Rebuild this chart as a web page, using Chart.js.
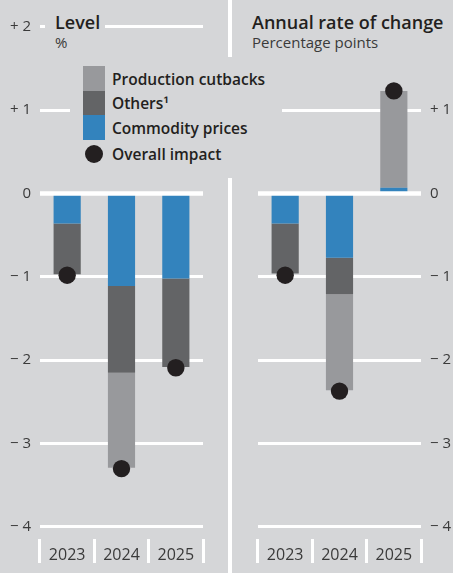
<!DOCTYPE html>
<html><head><meta charset="utf-8">
<script src="https://cdn.jsdelivr.net/npm/chart.js@4/dist/chart.umd.min.js"></script>
<style>
html,body{margin:0;padding:0;background:#d5d6d8;width:453px;height:573px;overflow:hidden;font-family:"Open Sans",sans-serif;}
#wrap{position:relative;width:453px;height:573px;}
canvas{position:absolute;top:0;}
#c1{left:0;}
#c2{left:232px;}
.sep{position:absolute;left:228px;top:0;width:4px;height:573px;background:#fff;}
.box{position:absolute;background:#d5d6d8;color:#231f20;}
.t{position:absolute;white-space:nowrap;}
.title{font-weight:600;font-size:18px;line-height:20px;}
.sub{font-weight:400;font-size:15px;line-height:18px;color:#3a3a3a;}
.lg{font-weight:600;font-size:15.5px;line-height:20px;color:#231f20;}
.sw{position:absolute;left:13px;width:22px;}
</style>
</head><body>
<div id="wrap">
  <canvas id="c1" width="228" height="573"></canvas>
  <div class="sep"></div>
  <canvas id="c2" width="221" height="573"></canvas>

  <div class="box" style="left:45px;top:8px;width:60px;height:44px;">
    <div class="t title" style="left:10px;top:3.6px;">Level</div>
    <div class="t sub" style="left:10px;top:25px;">%</div>
  </div>
  <div class="box" style="left:232px;top:0;width:221px;height:57px;">
    <div class="t title" style="left:20px;top:11.6px;">Annual rate of change</div>
    <div class="t sub" style="left:20px;top:33px;">Percentage points</div>
  </div>
  <div class="box" style="left:70px;top:57px;width:212px;height:121px;">
    <div class="sw" style="top:8.7px;height:25.3px;background:#98999c;"></div>
    <div class="sw" style="top:34px;height:24px;background:#636466;"></div>
    <div class="sw" style="top:58px;height:25px;background:#3383bd;"></div>
    <div style="position:absolute;left:15px;top:88px;width:18px;height:18px;border-radius:50%;background:#231f20;"></div>
    <div class="t lg" style="left:42px;top:12px;">Production cutbacks</div>
    <div class="t lg" style="left:42px;top:36px;">Others¹</div>
    <div class="t lg" style="left:42px;top:61px;">Commodity prices</div>
    <div class="t lg" style="left:42px;top:87px;">Overall impact</div>
  </div>
</div>
<script>
// ---- data ----
const categories = ['2023', '2024', '2025'];
const levelCommodity  = [-0.36, -1.11, -1.02];
const levelOthers     = [-0.61, -1.04, -1.06];
const levelProduction = [0, -1.14, 0];
const levelOverall    = [-0.98, -3.30, -2.09];
const changeCommodity  = [-0.36, -0.77, 0.07];
const changeOthers     = [-0.60, -0.44, 0];
const changeProduction = [0, -1.15, 1.16];
const changeOverall    = [-0.98, -2.37, 1.23];
const yTickValues = [2, 1, 0, -1, -2, -3, -4];
const seriesNames = ['Commodity prices', 'Others¹', 'Production cutbacks', 'Overall impact'];

const C_BLUE = '#3383bd', C_DARK = '#636466', C_LIGHT = '#98999c', C_DOT = '#231f20';
const TXT = '#3a3a3a';

function tickLabel(v) {
  if (v > 0) return '+ ' + v;
  if (v < 0) return '\u2212 ' + (-v);
  return '0';
}

const zeroLine = {
  id: 'zeroLine',
  afterDatasetsDraw(chart) {
    const y = chart.scales.y.getPixelForValue(0);
    const a = chart.chartArea;
    const ctx = chart.ctx;
    ctx.save();
    ctx.strokeStyle = '#ffffff';
    ctx.lineWidth = 4.5;
    ctx.beginPath();
    ctx.moveTo(a.left, y);
    ctx.lineTo(a.right, y);
    ctx.stroke();
    ctx.restore();
  }
};

function makeChart(id, comm, oth, prod, overall, side, yWidth, pad) {
  return new Chart(document.getElementById(id), {
    type: 'bar',
    data: {
      labels: categories,
      datasets: [
        { label: seriesNames[3], type: 'line', data: overall, showLine: false, stack: 'dot',
          pointRadius: 8.7, pointHoverRadius: 8.7, pointBackgroundColor: C_DOT, pointBorderWidth: 0,
          backgroundColor: C_DOT, order: 0 },
        { label: seriesNames[0], data: comm, backgroundColor: C_BLUE, stack: 's', order: 1 },
        { label: seriesNames[1], data: oth, backgroundColor: C_DARK, stack: 's', order: 1 },
        { label: seriesNames[2], data: prod, backgroundColor: C_LIGHT, stack: 's', order: 1 }
      ]
    },
    options: {
      responsive: false,
      animation: false,
      devicePixelRatio: 1,
      layout: { padding: pad },
      datasets: { bar: { barPercentage: 0.5, categoryPercentage: 1, borderWidth: 0 } },
      plugins: { legend: { display: false }, tooltip: { enabled: false } },
      scales: {
        x: {
          stacked: true,
          offset: true,
          grid: { offset: true, drawOnChartArea: false, drawTicks: true, tickLength: 24,
                  tickWidth: 3, tickColor: '#ffffff' },
          border: { display: false },
          ticks: { color: TXT, font: { family: 'Open Sans', size: 16 }, padding: -17, maxRotation: 0 },
          afterFit: s => { s.height = 34; }
        },
        y: {
          position: side,
          stacked: true,
          min: -4.144,
          max: 2,
          afterBuildTicks: s => { s.ticks = yTickValues.map(v => ({ value: v })); },
          ticks: { includeBounds: false, stepSize: 1, padding: 9, color: TXT,
                   font: { family: 'Open Sans', size: 15 }, callback: v => tickLabel(v) },
          grid: { color: '#ffffff', lineWidth: 3, drawTicks: false },
          border: { display: false },
          afterFit: s => { s.width = yWidth; }
        }
      }
    },
    plugins: [zeroLine]
  });
}

makeChart('c1', levelCommodity, levelOthers, levelProduction, levelOverall, 'left', 40,
  { top: 26.7, left: 0, right: 25, bottom: 0 });
makeChart('c2', changeCommodity, changeOthers, changeProduction, changeOverall, 'right', 32,
  { top: 26.7, left: 26, right: 0, bottom: 0 });
</script>
</body></html>
